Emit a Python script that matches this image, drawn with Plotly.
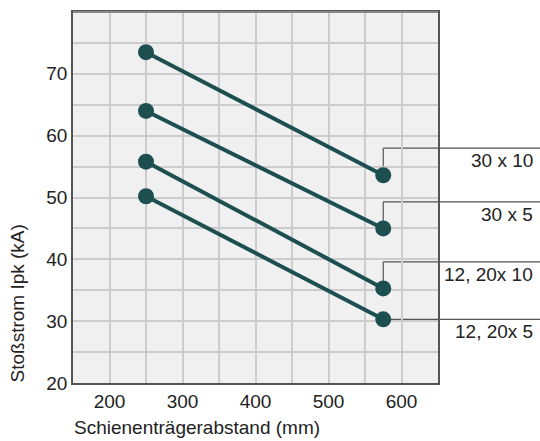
import plotly.graph_objects as go

# Data
abstand = [250, 575]  # Schienenträgerabstand (mm)
series_names = ["30 x 10", "30 x 5", "12, 20x 10", "12, 20x 5"]
s_30x10 = [73.5, 53.6]
s_30x5 = [64.0, 45.0]
s_12_20x10 = [55.8, 35.3]
s_12_20x5 = [50.2, 30.3]
label_levels = [58.0, 49.3, 39.6, 30.3]  # y of leader lines

x_range = [150, 650]
y_range = [20, 80]
x_ticks = [200, 300, 400, 500, 600]
y_ticks = [20, 30, 40, 50, 60, 70]

color = "#1d4f50"
ink = "#222222"
font_family = "Liberation Sans, Arial, Helvetica, sans-serif"
fs = 19

fig = go.Figure()
all_series = [s_30x10, s_30x5, s_12_20x10, s_12_20x5]
for name, ys in zip(series_names, all_series):
    fig.add_trace(go.Scatter(
        x=abstand, y=ys, mode="lines+markers", name=name,
        line=dict(color=color, width=4),
        marker=dict(color=color, size=16),
        showlegend=False, cliponaxis=False, hoverinfo="skip",
    ))

def px(v):
    return (v - x_range[0]) / (x_range[1] - x_range[0])

def py(v):
    return (v - y_range[0]) / (y_range[1] - y_range[0])

shapes = []
annotations = []
x_end = abstand[-1]
for name, ys, lvl in zip(series_names, all_series, label_levels):
    y_end = ys[-1]
    if abs(lvl - y_end) > 0.5:
        shapes.append(dict(type="line", xref="paper", yref="paper",
                           x0=px(x_end), x1=px(x_end), y0=py(y_end), y1=py(lvl),
                           line=dict(color="#555555", width=1.2), layer="below"))
    shapes.append(dict(type="line", xref="paper", yref="paper",
                       x0=px(x_end), x1=1.3, y0=py(lvl), y1=py(lvl),
                       line=dict(color="#555555", width=1.2), layer="below"))
    annotations.append(dict(text=name, xref="paper", yref="paper",
                            x=1.266, y=py(lvl), xanchor="right", yanchor="top",
                            yshift=0, showarrow=False,
                            font=dict(size=fs, color=ink, family=font_family)))

annotations.append(dict(text="Schienenträgerabstand (mm)", xref="paper", yref="paper",
                        x=-0.004, y=-0.12, xanchor="left", yanchor="middle",
                        showarrow=False, font=dict(size=fs, color=ink, family=font_family)))
annotations.append(dict(text="Stoßstrom Ipk (kA)", xref="paper", yref="paper",
                        x=-0.151, y=0.214, xanchor="center", yanchor="middle",
                        textangle=-90, showarrow=False,
                        font=dict(size=fs, color=ink, family=font_family)))

# lighter top border
shapes.append(dict(type="line", xref="paper", yref="paper", x0=0, x1=1, y0=1, y1=1,
                   line=dict(color="#888888", width=2), layer="above"))

fig.update_layout(
    width=540, height=441,
    margin=dict(l=73, r=102, t=10, b=58),
    paper_bgcolor="white", plot_bgcolor="#f0f0f0",
    font=dict(family=font_family, size=fs, color=ink),
    shapes=shapes, annotations=annotations,
    xaxis=dict(range=x_range, tickvals=x_ticks, showgrid=True, gridcolor="#cccccc",
               gridwidth=1.5, minor=dict(dtick=50, tick0=150, showgrid=True,
                                         gridcolor="#cccccc", gridwidth=1.5),
               showline=True, linecolor="#555555", linewidth=1.5, mirror=True,
               ticks="", zeroline=False, tickfont=dict(size=fs, color=ink)),
    yaxis=dict(range=y_range, tickvals=y_ticks, showgrid=True, gridcolor="#cccccc",
               gridwidth=1.5, minor=dict(dtick=5, tick0=20, showgrid=True,
                                         gridcolor="#cccccc", gridwidth=1.5),
               showline=True, linecolor="#555555", linewidth=1.5, mirror=True,
               ticks="", zeroline=False, tickfont=dict(size=fs, color=ink)),
)

fig.write_html("out.html", config={"displayModeBar": False},
               post_script="document.body.style.margin='0';document.body.style.overflow='hidden';")
